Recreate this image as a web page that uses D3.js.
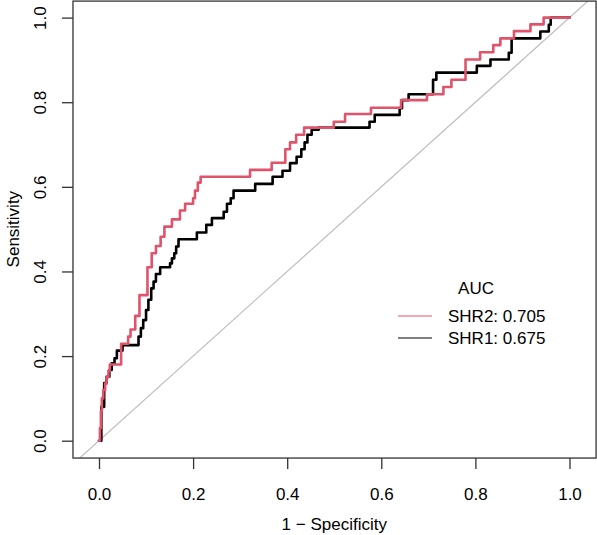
<!DOCTYPE html>
<html>
<head>
<meta charset="utf-8">
<script src="https://cdn.jsdelivr.net/npm/d3@7"></script>
<style>
html,body{margin:0;padding:0;background:#fff;}
svg{display:block;}
text{font-family:"Liberation Sans",Arial,Helvetica,sans-serif;fill:#000;}
</style>
</head>
<body>
<svg id="chart" width="597" height="535"></svg>
<script>
// ---- data ----
const xTicks = [0, 0.2, 0.4, 0.6, 0.8, 1.0];
const yTicks = [0, 0.2, 0.4, 0.6, 0.8, 1.0];
const tickLabels = ["0.0", "0.2", "0.4", "0.6", "0.8", "1.0"];
const seriesNames = ["SHR2", "SHR1"];
const aucValues = ["0.705", "0.675"];

// SHR2 ROC step vertices: [1 - specificity, sensitivity]
const shr2FPR = [0,0.002,0.004,0.006,0.009,0.013,0.016,0.02,0.023,0.047,0.062,0.067,0.077,0.086,0.103,0.112,0.121,0.131,0.139,0.155,0.172,0.183,0.2,0.204,0.21,0.216,0.321,0.367,0.396,0.406,0.419,0.436,0.499,0.523,0.578,0.642,0.697,0.732,0.749,0.779,0.81,0.838,0.853,0.882,0.917,0.945,1.0];
const shr2TPR = [0,0.03,0.07,0.1,0.12,0.135,0.15,0.165,0.18,0.229,0.246,0.263,0.295,0.344,0.41,0.443,0.46,0.482,0.506,0.523,0.544,0.56,0.573,0.591,0.61,0.624,0.64,0.657,0.689,0.705,0.723,0.74,0.754,0.772,0.787,0.805,0.819,0.836,0.853,0.901,0.918,0.935,0.951,0.968,0.984,1.0,1.0];

// SHR1 ROC step vertices
const shr1FPR = [0,0.005,0.011,0.016,0.022,0.027,0.033,0.038,0.05,0.084,0.089,0.094,0.1,0.105,0.111,0.116,0.121,0.13,0.151,0.155,0.16,0.164,0.169,0.208,0.228,0.24,0.265,0.272,0.28,0.286,0.332,0.369,0.39,0.406,0.42,0.43,0.437,0.443,0.452,0.467,0.575,0.586,0.639,0.644,0.658,0.71,0.717,0.803,0.832,0.871,0.877,0.938,0.956,0.96,1.0];
const shr1TPR = [0,0.08,0.136,0.151,0.167,0.183,0.195,0.213,0.226,0.246,0.266,0.285,0.309,0.333,0.36,0.376,0.394,0.41,0.419,0.431,0.443,0.459,0.476,0.492,0.51,0.526,0.541,0.56,0.573,0.591,0.607,0.624,0.638,0.656,0.671,0.689,0.705,0.723,0.735,0.74,0.754,0.77,0.786,0.805,0.819,0.853,0.87,0.886,0.901,0.917,0.951,0.967,0.983,1.0,1.0];

// ---- layout ----
const svg = d3.select("#chart");
const x = d3.scaleLinear().domain([0, 1]).range([99, 569.5]);
const y = d3.scaleLinear().domain([0, 1]).range([440.7, 17.6]);
const xlim = [-0.0553, 1.0565];
const ylim = [-0.041, 1.039];
const fontSize = 17;

// diagonal reference line (clipped to box)
svg.append("clipPath").attr("id","clip").append("rect")
  .attr("x", x(xlim[0])).attr("y", y(ylim[1]))
  .attr("width", x(xlim[1]) - x(xlim[0])).attr("height", y(ylim[0]) - y(ylim[1]));

const g = svg.append("g").attr("clip-path","url(#clip)");
g.append("line")
  .attr("x1", x(-0.1)).attr("y1", y(-0.1))
  .attr("x2", x(1.1)).attr("y2", y(1.1))
  .attr("stroke", "#BEBEBE").attr("stroke-width", 1.2);

const line = d3.line().x(d => x(d[0])).y(d => y(d[1])).curve(d3.curveStepAfter);
const series = [
  {name: seriesNames[1], fpr: shr1FPR, tpr: shr1TPR, color: "#000000"},
  {name: seriesNames[0], fpr: shr2FPR, tpr: shr2TPR, color: "#DF536B"}
];
series.forEach(s => {
  g.append("path")
    .datum(s.fpr.map((v, i) => [v, s.tpr[i]]))
    .attr("d", line)
    .attr("fill", "none")
    .attr("stroke", s.color)
    .attr("stroke-width", 2.6)
    .attr("stroke-linejoin", "round")
    .attr("stroke-linecap", "round");
});

// box
svg.append("rect")
  .attr("x", x(xlim[0])).attr("y", y(ylim[1]))
  .attr("width", x(xlim[1]) - x(xlim[0])).attr("height", y(ylim[0]) - y(ylim[1]))
  .attr("fill", "none").attr("stroke", "#333").attr("stroke-width", 1.3);

// x axis
const xAxis = d3.axisBottom(x).tickValues(xTicks).tickSize(11).tickPadding(19)
  .tickFormat((d, i) => tickLabels[i]);
const gx = svg.append("g").attr("transform", `translate(0,${y(ylim[0])})`).call(xAxis);
gx.select(".domain").remove();
gx.selectAll(".tick line").attr("stroke", "#333").attr("stroke-width", 1.3);
gx.selectAll(".tick text").attr("font-size", fontSize)
  .attr("font-family", "Liberation Sans, Arial, sans-serif").attr("fill", "#000");

// y axis
const yAxis = d3.axisLeft(y).tickValues(yTicks).tickSize(11).tickFormat((d, i) => tickLabels[i]);
const gy = svg.append("g").attr("transform", `translate(${x(xlim[0])},0)`).call(yAxis);
gy.select(".domain").remove();
gy.selectAll(".tick line").attr("stroke", "#333").attr("stroke-width", 1.3);
gy.selectAll(".tick text")
  .attr("font-size", fontSize)
  .attr("font-family", "Liberation Sans, Arial, sans-serif").attr("fill", "#000")
  .attr("x", null).attr("dy", null)
  .attr("text-anchor", "middle")
  .attr("dominant-baseline", "central")
  .attr("transform", `translate(${40 - x(xlim[0])},0) rotate(-90)`);

// axis titles
svg.append("text").attr("x", x(0.5)).attr("y", 524)
  .attr("text-anchor", "middle").attr("dominant-baseline", "central")
  .attr("font-size", fontSize).text("1 \u2212 Specificity");
svg.append("text")
  .attr("transform", `translate(13,${y(0.5)}) rotate(-90)`)
  .attr("text-anchor", "middle").attr("dominant-baseline", "central")
  .attr("font-size", fontSize).text("Sensitivity");

// legend
const lg = svg.append("g");
lg.append("text").attr("x", 476).attr("y", 288).attr("text-anchor", "middle")
  .attr("dominant-baseline", "central").attr("font-size", fontSize).text("AUC");
const legendItems = [
  {label: seriesNames[0] + ": " + aucValues[0], color: "#DF536B"},
  {label: seriesNames[1] + ": " + aucValues[1], color: "#000000"}
];
legendItems.forEach((d, i) => {
  const yy = 316 + i * 22;
  lg.append("line").attr("x1", 398).attr("x2", 432).attr("y1", yy).attr("y2", yy)
    .attr("stroke", d.color).attr("stroke-width", 1.2);
  lg.append("text").attr("x", 448).attr("y", yy).attr("dominant-baseline", "central")
    .attr("font-size", fontSize).text(d.label);
});
</script>
</body>
</html>
